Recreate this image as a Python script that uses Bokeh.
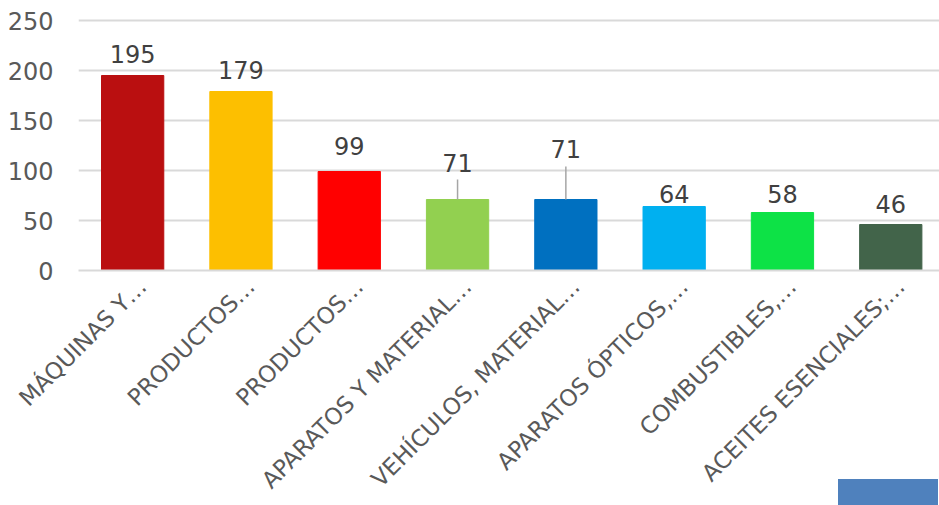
import math
from bokeh.plotting import figure
from bokeh.models import ColumnDataSource, FixedTicker, Range1d, Div
from bokeh.layouts import column
from bokeh.core.properties import value
from bokeh.embed import file_html
from bokeh.resources import INLINE

categories = ["MÁQUINAS Y…", "PRODUCTOS…", "PRODUCTOS…", "APARATOS Y MATERIAL…",
              "VEHÍCULOS, MATERIAL…", "APARATOS ÓPTICOS,…", "COMBUSTIBLES,…",
              "ACEITES ESENCIALES;…"]
values = [195, 179, 99, 71, 71, 64, 58, 46]
colors = ["#BA0F10", "#FDBF00", "#FF0000", "#92D050", "#0070C0", "#00B0F0", "#0DE246", "#42644A"]
y_ticks = [0, 50, 100, 150, 200, 250]

# style: label gap above bar top (px, total) and leader line lengths (px)
label_gap = [13, 13, 17, 28, 42, 4, 10, 12]
leader_len = [0, 0, 0, 20, 33, 0, 0, 0]
label_shift = 0.09  # category label shift (x units)

FONT = "DejaVu Sans"
xs = list(range(len(categories)))

p = figure(width=939, height=505, output_backend="svg", toolbar_location=None,
           x_range=Range1d(-0.5, 7.45), y_range=Range1d(0, 252),
           min_border_left=78, min_border_right=0, min_border_top=18, min_border_bottom=235)
p.outline_line_color = None
p.background_fill_color = "white"
p.border_fill_color = "white"

src = ColumnDataSource(dict(x=xs, top=values, color=colors,
                            label=[str(v) for v in values],
                            ly=[v + g for v, g in zip(values, label_gap)]))
p.vbar(x="x", top="top", width=0.575, color="color", source=src)

lsrc = ColumnDataSource(dict(x=[x for x, l in zip(xs, leader_len) if l > 0],
                             y0=[v for v, l in zip(values, leader_len) if l > 0],
                             y1=[v + l for v, l in zip(values, leader_len) if l > 0]))
p.segment(x0="x", y0="y0", x1="x", y1="y1", source=lsrc, line_color="#A6A6A6", line_width=1.5)

p.text(x="x", y="ly", text="label", source=src, text_align="center", text_baseline="bottom",
       text_font=value(FONT), text_font_size="24px", text_color="#404040")

p.xgrid.grid_line_color = None
p.ygrid.grid_line_color = "#D9D9D9"
p.ygrid.grid_line_width = 2
p.yaxis.ticker = FixedTicker(ticks=y_ticks)
p.yaxis.axis_line_color = None
p.yaxis.major_tick_line_color = None
p.yaxis.minor_tick_line_color = None
p.yaxis.major_label_text_font = FONT
p.yaxis.major_label_text_font_size = "24px"
p.yaxis.major_label_text_color = "#595959"
p.yaxis.major_label_standoff = 19

tick_pos = [x + label_shift for x in xs]
p.xaxis.ticker = FixedTicker(ticks=tick_pos)
p.xaxis.major_label_overrides = {t: c for t, c in zip(tick_pos, categories)}
p.xaxis.axis_line_color = "#D9D9D9"
p.xaxis.axis_line_width = 2
p.xaxis.major_tick_line_color = None
p.xaxis.minor_tick_line_color = None
p.xaxis.major_label_orientation = math.pi / 4
p.xaxis.major_label_text_font = FONT
p.xaxis.major_label_text_font_size = "23px"
p.xaxis.major_label_text_color = "#595959"
p.xaxis.major_label_standoff = 6

box = Div(width=100, height=27, text="",
          styles={"position": "absolute", "left": "833px", "top": "474px",
                  "background-color": "#4F81BD"})

layout = column(p, box)
open("out.html", "w").write(file_html(layout, INLINE))
